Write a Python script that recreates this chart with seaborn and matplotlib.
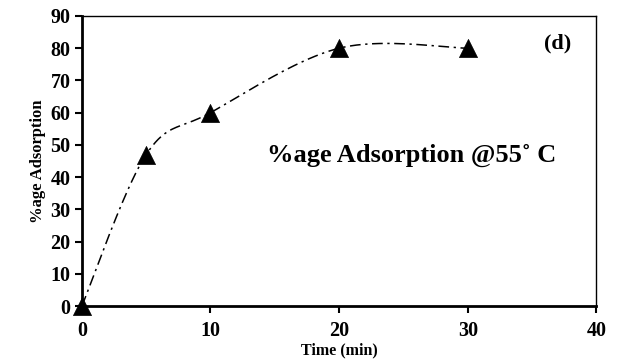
import numpy as np
import pandas as pd
import matplotlib
matplotlib.use("Agg")
import matplotlib.pyplot as plt
import seaborn as sns

time_min = [0, 5, 10, 20, 30]
adsorption = [0, 47, 60, 80, 80]
x_ticks = [0, 10, 20, 30, 40]
y_ticks = [0, 10, 20, 30, 40, 50, 60, 70, 80, 90]

sns.set_theme(style="white")
plt.rcParams['font.family'] = ['Liberation Serif', 'DejaVu Serif']
plt.rcParams['font.weight'] = 'bold'
plt.rcParams['text.color'] = 'black'
plt.rcParams['axes.labelcolor'] = 'black'
plt.rcParams['xtick.color'] = 'black'
plt.rcParams['ytick.color'] = 'black'

df = pd.DataFrame({"Time (min)": time_min, "%age Adsorption": adsorption})

# smooth (Excel-like bezier) line through the data points
def smooth(xs, ys, n=40):
    P = np.column_stack([xs, ys]).astype(float)
    out = []
    m = len(P)
    for i in range(m - 1):
        p0 = P[i - 1] if i > 0 else P[i]
        p3n = P[i + 2] if i + 2 < m else P[i + 1]
        c1 = P[i] + (P[i + 1] - p0) / 6.0
        c2 = P[i + 1] - (p3n - P[i]) / 6.0
        t = np.linspace(0, 1, n)[:, None]
        seg = ((1 - t) ** 3) * P[i] + 3 * ((1 - t) ** 2) * t * c1 + 3 * (1 - t) * t ** 2 * c2 + t ** 3 * P[i + 1]
        out.append(seg if i == 0 else seg[1:])
    s = np.vstack(out)
    return s[:, 0], s[:, 1]

sx, sy = smooth(time_min, adsorption)

fig, ax = plt.subplots(figsize=(6.2, 3.63), dpi=100)
fig.subplots_adjust(left=0.132, right=0.962, top=0.956, bottom=0.157)

ax.plot(sx, sy, color="black", lw=1.1, linestyle=(0, (7, 3, 1.5, 3)), zorder=2)
sns.scatterplot(data=df, x="Time (min)", y="%age Adsorption", marker="^", s=170,
                color="black", edgecolor="black", linewidth=0.5, ax=ax, zorder=3,
                clip_on=False)

ax.set_xlim(0, 40)
ax.set_ylim(0, 90)
ax.set_xticks(x_ticks)
ax.set_yticks(y_ticks)
ax.tick_params(axis="both", direction="out", length=5, width=1.5, labelsize=14.5,
               colors="black", bottom=True, left=True, pad=3)
for lab in ax.get_xticklabels() + ax.get_yticklabels():
    lab.set_fontweight("bold")
ax.xaxis.set_tick_params(pad=6)

for side in ["left", "bottom"]:
    ax.spines[side].set_linewidth(2.0)
    ax.spines[side].set_color("black")
for side in ["top", "right"]:
    ax.spines[side].set_linewidth(1.0)
    ax.spines[side].set_color("black")

ax.set_xlabel("Time (min)", fontsize=11.5, fontweight="bold", labelpad=0.5)
ax.set_ylabel("%age Adsorption", fontsize=12, fontweight="bold", labelpad=3)

ax.text(0.64, 0.52, "%age Adsorption @55\u02da C", transform=ax.transAxes,
        ha="center", va="center", fontsize=19, fontweight="bold", color="black")
ax.text(0.925, 0.905, "(d)", transform=ax.transAxes, ha="center", va="center",
        fontsize=16, fontweight="bold", color="black")

fig.savefig("out.png", dpi=100, facecolor="white")
